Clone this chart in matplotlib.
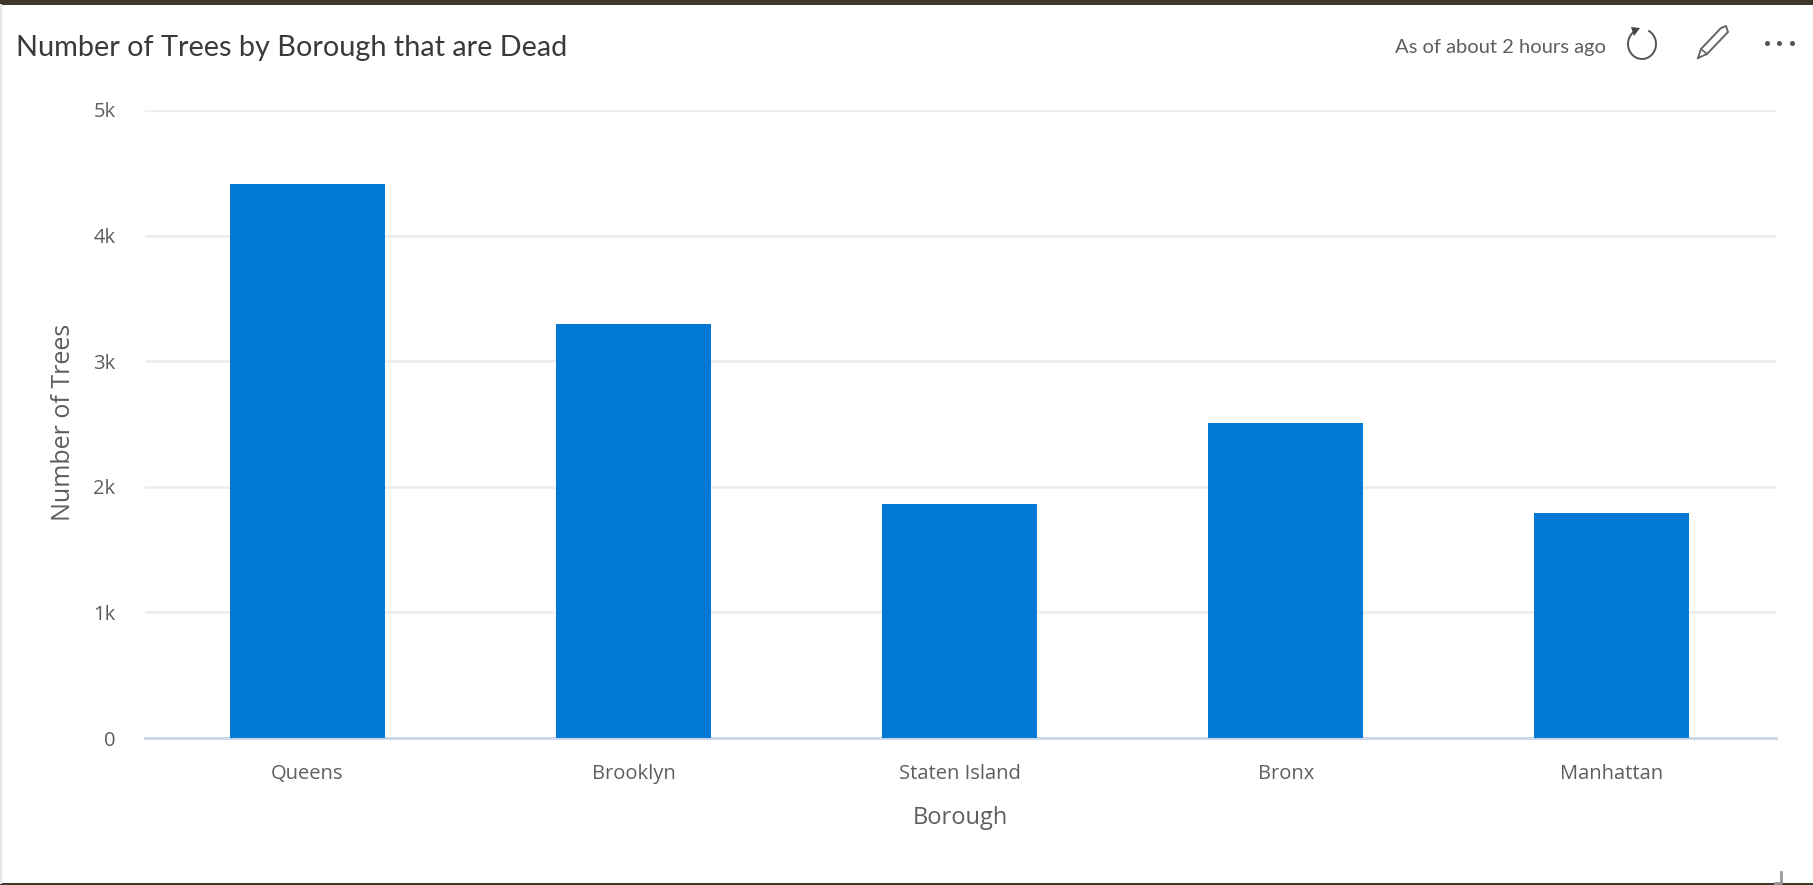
import matplotlib
matplotlib.use("Agg")
import matplotlib.pyplot as plt
from matplotlib.patches import Arc, Polygon, Rectangle
from matplotlib.ticker import FuncFormatter

boroughs = ["Queens", "Brooklyn", "Staten Island", "Bronx", "Manhattan"]
dead_trees = [4410, 3300, 1860, 2510, 1790]
y_ticks = [0, 1000, 2000, 3000, 4000, 5000]

W, H = 1813, 885
FONT = "Open Sans"
GREY = "#605e5c"

plt.rcParams["font.family"] = [FONT, "DejaVu Sans"]

fig = plt.figure(figsize=(W / 100, H / 100), dpi=100, facecolor="white")

# pixel overlay for the frame, header and icons
px = fig.add_axes([0, 0, 1, 1], zorder=3)
px.set_xlim(0, W)
px.set_ylim(H, 0)
px.axis("off")
px.patch.set_alpha(0)

px.add_patch(Rectangle((0, 0), W, 5, fc="#3f3829", ec="none"))
px.add_patch(Rectangle((0, H - 2), W, 2, fc="#3f3829", ec="none"))
px.plot([1, 1], [5, H - 2], color="#e6e6e6", lw=1.5)

px.text(16, 48, "Number of Trees by Borough that are Dead", fontsize=20.75,
        color="#3b3a39", va="center", ha="left", family=["Lato", "DejaVu Sans"])
px.text(1395, 48, "As of about 2 hours ago", fontsize=14.5,
        color=GREY, va="center", ha="left", family=["Lato", "DejaVu Sans"])

# refresh icon
px.add_patch(Arc((1642, 44), 28, 30, theta1=-65, theta2=245, color="#555", lw=1.4))
px.add_patch(Polygon([[1631, 27], [1640, 28], [1634, 36]], fc="#444", ec="none"))

# pencil icon
px.plot([1698, 1701, 1721, 1726, 1728, 1707, 1698], [58, 49, 28, 26, 32, 54, 58], color="#666", lw=1.4)
px.plot([1701, 1707], [49, 54], color="#666", lw=1.2)

# more menu
px.plot([1767, 1779, 1792], [43, 43, 43], ls="none", marker="o", ms=2.6, color="#555")

# resize grip
px.plot([1775, 1781, 1781], [883, 883, 872], color="#999", lw=2)

# chart
ax = fig.add_axes([144.6 / W, 1 - 738 / H, (1775.5 - 144.6) / W, (738 - 110) / H])
ax.bar(range(len(boroughs)), dead_trees, width=0.475, color="#0078d4", zorder=3)
ax.set_xlim(-0.4985, len(boroughs) - 0.4985)
ax.set_ylim(0, 5000)
ax.set_yticks(y_ticks)
ax.yaxis.set_major_formatter(FuncFormatter(lambda v, _: "0" if v == 0 else f"{v / 1000:.0f}k"))
ax.set_xticks(range(len(boroughs)))
ax.set_xticklabels(boroughs)
ax.tick_params(axis="both", length=0, labelsize=14.5, labelcolor=GREY)
ax.tick_params(axis="y", pad=21)
ax.tick_params(axis="x", pad=18.5)
ax.grid(axis="y", color="#eeeeee", lw=2, zorder=0)
ax.set_axisbelow(True)
for side in ["top", "right", "left"]:
    ax.spines[side].set_visible(False)
ax.spines["bottom"].set_color("#c8d6ea")
ax.spines["bottom"].set_linewidth(2)
ax.spines["bottom"].set_zorder(2)

ax.set_xlabel("Borough", fontsize=17, color=GREY, labelpad=16)
ax.set_ylabel("Number of Trees", fontsize=18, color=GREY)
ax.yaxis.set_label_coords((76 - 144.6) / (1775.5 - 144.6), (738 - 422) / (738 - 110))

fig.savefig("out.png", dpi=100, facecolor="white")
